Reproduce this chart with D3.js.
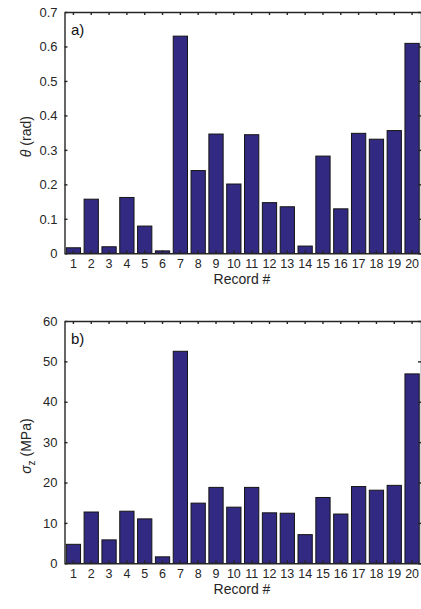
<!DOCTYPE html>
<html>
<head>
<meta charset="utf-8">
<script src="https://cdn.jsdelivr.net/npm/d3@7"></script>
<style>
  body { margin: 0; background: #fff; overflow: hidden; }
  svg { display: block; font-family: "Liberation Sans", Arial, sans-serif; }
  .axis path, .axis line { stroke: #262626; stroke-width: 1.4; }
  .axis text { fill: #262626; font-size: 13px; }
  .axis.x text { font-size: 12.5px; }
</style>
</head>
<body>
<div id="chart"></div>
<script>
// les donnees
const records = d3.range(1, 21).map(String);
const theta = [0.016, 0.157, 0.019, 0.162, 0.079, 0.007, 0.630, 0.240, 0.346, 0.201,
               0.344, 0.147, 0.135, 0.021, 0.282, 0.129, 0.348, 0.331, 0.356, 0.609];
const sigmaZ = [4.7, 12.7, 5.8, 12.9, 11.0, 1.6, 52.5, 14.9, 18.8, 13.9,
                18.8, 12.5, 12.4, 7.1, 16.3, 12.2, 19.0, 18.1, 19.3, 46.9];
const thetaTicks = [0, 0.1, 0.2, 0.3, 0.4, 0.5, 0.6, 0.7];
const sigmaTicks = [0, 10, 20, 30, 40, 50, 60];

const W = 421, H = 609;
const svg = d3.select("#chart").append("svg")
    .attr("width", W).attr("height", H);

const x = d3.scaleBand()
    .domain(records)
    .range([64.5, 421])
    .paddingInner(0.2)
    .paddingOuter(0.1);

function panel(values, yTicks, top, bottom, tag, labelFn) {
    const y = d3.scaleLinear()
        .domain([yTicks[0], yTicks[yTicks.length - 1]])
        .range([bottom, top]);
    const g = svg.append("g");

    // barres
    g.selectAll("rect")
        .data(values)
        .join("rect")
        .attr("x", (d, i) => x(records[i]))
        .attr("y", d => y(d))
        .attr("width", x.bandwidth())
        .attr("height", d => y(0) - y(d))
        .attr("fill", "#322a82")
        .attr("stroke", "#141414")
        .attr("stroke-width", 1);

    // axes (ticks vers l'interieur)
    g.append("g").attr("class", "axis x")
        .attr("transform", `translate(0,${bottom})`)
        .call(d3.axisBottom(x).tickSize(-3).tickSizeOuter(0).tickPadding(5))
        .call(a => a.selectAll("text").attr("dy", "0.75em"));
    g.append("g").attr("class", "axis")
        .attr("transform", `translate(0,${top})`)
        .call(d3.axisTop(x).tickSize(-3).tickSizeOuter(0).tickFormat(""));
    g.append("g").attr("class", "axis")
        .attr("transform", `translate(${x.range()[0]},0)`)
        .call(d3.axisLeft(y).tickValues(yTicks).tickSize(-3).tickSizeOuter(0)
            .tickPadding(7).tickFormat(d => String(d)));
    g.append("g").attr("class", "axis")
        .attr("transform", `translate(${x.range()[1]},0)`)
        .call(d3.axisRight(y).tickValues(yTicks).tickSize(-3).tickSizeOuter(0).tickFormat(""));

    g.append("text")
        .attr("x", 71).attr("y", top + 23)
        .attr("font-size", 15).attr("fill", "#111")
        .text(tag);

    g.append("text")
        .attr("x", 242).attr("y", bottom + 31)
        .attr("text-anchor", "middle")
        .attr("font-size", 14).attr("fill", "#262626")
        .text("Record #");

    const yl = g.append("text")
        .attr("transform", `translate(31,${(top + bottom) / 2 + 4}) rotate(-90)`)
        .attr("text-anchor", "middle")
        .attr("font-size", 14).attr("fill", "#262626");
    labelFn(yl);
}

panel(theta, thetaTicks, 12, 253.3, "a)", t => {
    t.append("tspan").attr("font-style", "italic").text("θ");
    t.append("tspan").text(" (rad)");
});
panel(sigmaZ, sigmaTicks, 321, 563.3, "b)", t => {
    t.append("tspan").attr("font-style", "italic").text("σ");
    t.append("tspan").attr("font-size", 10).attr("dy", 4).text("z");
    t.append("tspan").attr("dy", -4).text(" (MPa)");
});
</script>
</body>
</html>
